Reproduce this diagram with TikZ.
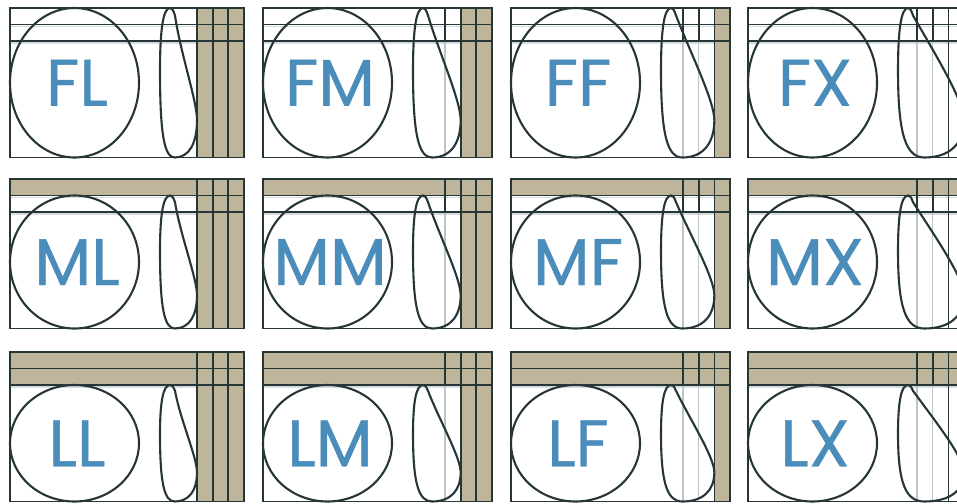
\documentclass[tikz,border=0pt]{standalone}
\usepackage{fontspec}
\newfontfamily\labelfont[FakeBold=0.6]{Poppins}
\definecolor{PanelTan}{HTML}{BFB59A}
\definecolor{PanelLine}{HTML}{263636}
\definecolor{PanelGray}{HTML}{BCC4CC}
\definecolor{LabelBlue}{HTML}{4A8CBA}
\tikzset{
  darkline/.style={PanelLine, line width=1.7pt},
  grayline/.style={PanelGray, line width=1.1pt},
  bandfill/.style={fill=PanelTan},
  shapeline/.style={PanelLine, line width=2.1pt},
  lettering/.style={LabelBlue, font=\labelfont\fontsize{66}{66}\selectfont, inner sep=0pt}
}
\begin{document}
\begin{tikzpicture}[x=1pt, y=-1pt]
  \useasboundingbox (0,0) rectangle (957,503);
  \fill[white] (0,0) rectangle (957,503);
  \clip (0,0) rectangle (957,503);
  % rows: letter / top / filled horizontal bands
  \foreach \rl/\yT/\nh in {F/8/0, M/179/1, L/352/2} {
    % columns: letter / left / first column line / filled vertical bands
    \foreach \cl/\xL/\xC/\nv in {L/10/197/3, M/263/445/2, F/511/683/1, X/748/917/0} {
      \pgfmathsetmacro\yA{\yT+16.5}
      \pgfmathsetmacro\yB{\yT+33}
      \pgfmathsetmacro\yE{\yT+149.5}
      \pgfmathsetmacro\xR{\xC+47}
      \pgfmathsetmacro\yH{\yT+\nh*16.5}
      \pgfmathsetmacro\xV{\xR-\nv*15.67}
      % gray guide lines
      \foreach \i in {0,1,2}
        \draw[grayline] (\xC+\i*15.67,\yT) -- (\xC+\i*15.67,\yE);
      \draw[grayline, opacity=0.6] (\xL,\yA+2) -- (\xR,\yA+2) (\xL,\yB+2) -- (\xR,\yB+2);
      % tan bands
      \fill[bandfill] (\xV,\yT) rectangle (\xR,\yE);
      \fill[bandfill] (\xL,\yT) rectangle (\xR,\yH);
      % dark grid
      \draw[darkline] (\xL,\yT) rectangle (\xR,\yE);
      \draw[darkline] (\xL,\yA) -- (\xR,\yA) (\xL,\yB) -- (\xR,\yB);
      \foreach \i in {0,1,2} {
        \pgfmathtruncatemacro\full{(\i>=3-\nv) || (\i==2)}
        \ifnum\full=1
          \draw[darkline] (\xC+\i*15.67,\yT) -- (\xC+\i*15.67,\yE);
        \else
          \draw[darkline] (\xC+\i*15.67,\yT) -- (\xC+\i*15.67,\yB);
        \fi
      }
      % head (ellipse)
      \pgfmathsetmacro\ry{(\yE-\yH)/2}
      \draw[shapeline] (\xL+64.5,\yH+\ry) ellipse [x radius=64.5, y radius=\ry];
      % drop
      \pgfmathsetmacro\dL{\xL+150}
      \pgfmathsetmacro\dw{\xV-\dL}
      \pgfmathsetmacro\dh{\yE-\yH}
      \draw[shapeline] (\dL+10,\yH)
        .. controls (\dL+3,\yH) and (\dL,\yH+0.15*\dh) .. (\dL,\yH+0.42*\dh)
        .. controls (\dL,\yH+0.85*\dh) and (\dL+0.12*\dw,\yE) .. (\dL+0.4*\dw,\yE)
        .. controls (\dL+0.8*\dw,\yE) and (\xV,\yH+0.9*\dh) .. (\xV,\yH+0.75*\dh)
        .. controls (\xV,\yH+0.62*\dh) and (\dL+0.55*\dw,\yH+0.3*\dh) .. (\dL+15,\yH+0.05*\dh)
        .. controls (\dL+13,\yH+0.01*\dh) and (\dL+12,\yH) .. cycle;
      \node[lettering] (\rl\cl) at (\xL+67,\yH+\ry) {\rl\cl};
    }
  }
\end{tikzpicture}
\end{document}
